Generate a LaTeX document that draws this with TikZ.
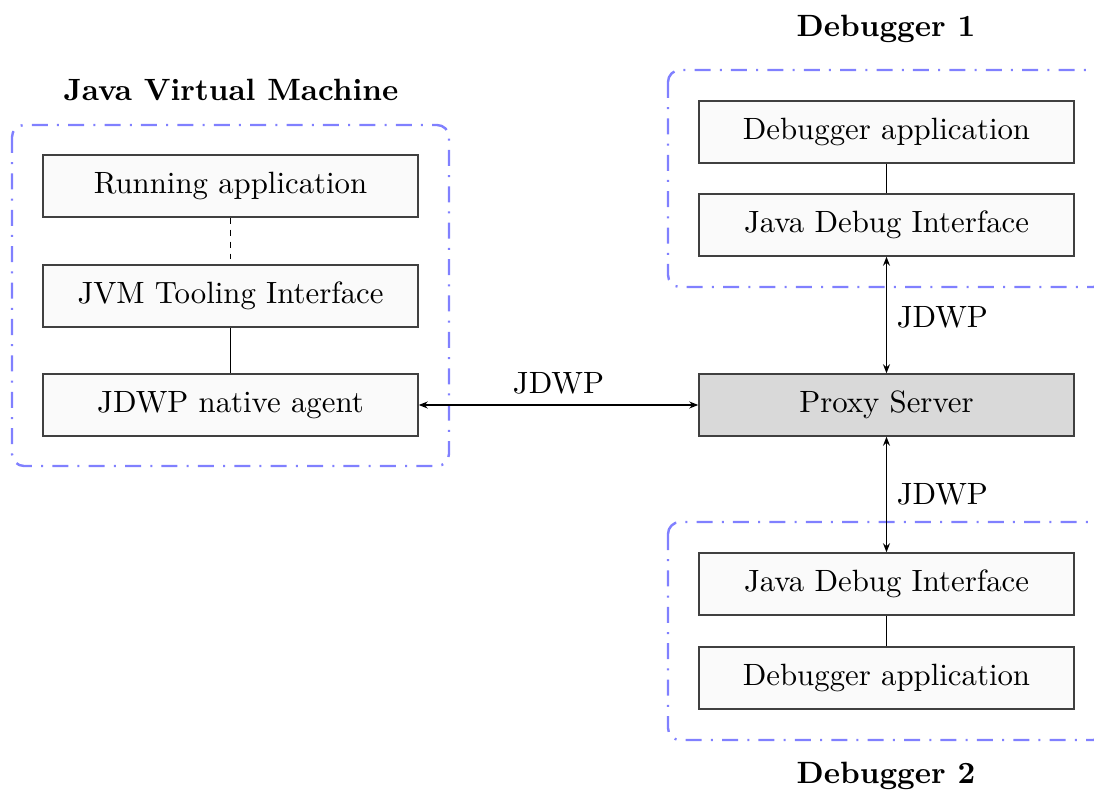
\documentclass[tikz,border=0pt]{standalone}
\usepackage{fontspec}
\setmainfont{lmroman10-regular.otf}[BoldFont=lmroman10-bold.otf]
\usetikzlibrary{arrows.meta}
\definecolor{framecol}{HTML}{8080FF}
\tikzset{
  px/.style={x=0.5pt,y=-0.5pt},
  box/.style={draw=black!75,line width=0.75pt,fill=black!2,minimum width=187.5pt,minimum height=31pt,inner sep=0pt,font=\fontsize{15.4}{18}\selectfont},
  proxybox/.style={box,fill=black!15},
  frame/.style={draw=framecol,line width=1.2pt,rounded corners=6pt,dash pattern=on 8pt off 4.6pt on 1pt off 4.6pt},
  title/.style={font=\fontsize{15.4}{18}\selectfont\bfseries},
  lbl/.style={font=\fontsize{15.4}{18}\selectfont},
  link/.style={draw=black,line width=0.6pt},
  biarrow/.style={link,{Stealth[length=4.5pt,width=3.5pt]}-{Stealth[length=4.5pt,width=3.5pt]}},
}
\begin{document}
\begin{tikzpicture}[px]
\useasboundingbox (0,0) rectangle (1094,792);
\begin{scope}
\clip (0,0) rectangle (1094,792);
% frames
\draw[frame] (12,125) rectangle (449,466);
\draw[frame] (668,70) rectangle (1105,287);
\draw[frame] (668,522) rectangle (1105,740);
\end{scope}
% titles
\node[title] (tjvm) at (231,90) {Java Virtual Machine};
\node[title] (td1) at (886,29) {Debugger 1};
\node[title] (td2) at (886,776) {Debugger 2};
% left boxes
\node[box] (run) at (230.5,186) {Running application};
\node[box] (jvmti) at (230.5,296) {JVM Tooling Interface};
\node[box] (agent) at (230.5,405) {JDWP native agent};
% right boxes
\node[box] (dapp1) at (886.5,132) {Debugger application};
\node[box] (jdi1) at (886.5,225) {Java Debug Interface};
\node[proxybox] (proxy) at (886.5,405) {Proxy Server};
\node[box] (jdi2) at (886.5,584) {Java Debug Interface};
\node[box] (dapp2) at (886.5,678) {Debugger application};
% connectors
\coordinate (dashend) at (230.5,259);
\draw[link,dashed] (run.south) -- (dashend);
\draw[link] (jvmti) -- (agent);
\draw[link] (dapp1) -- (jdi1);
\draw[link] (jdi2) -- (dapp2);
\draw[biarrow] (agent) -- node[lbl,above=2pt] {JDWP} (proxy);
\draw[biarrow] (jdi1) -- node[lbl,right=1.5pt,pos=0.52] {JDWP} (proxy);
\draw[biarrow] (proxy) -- node[lbl,right=1.5pt,pos=0.5] {JDWP} (jdi2);
\end{tikzpicture}
\end{document}
